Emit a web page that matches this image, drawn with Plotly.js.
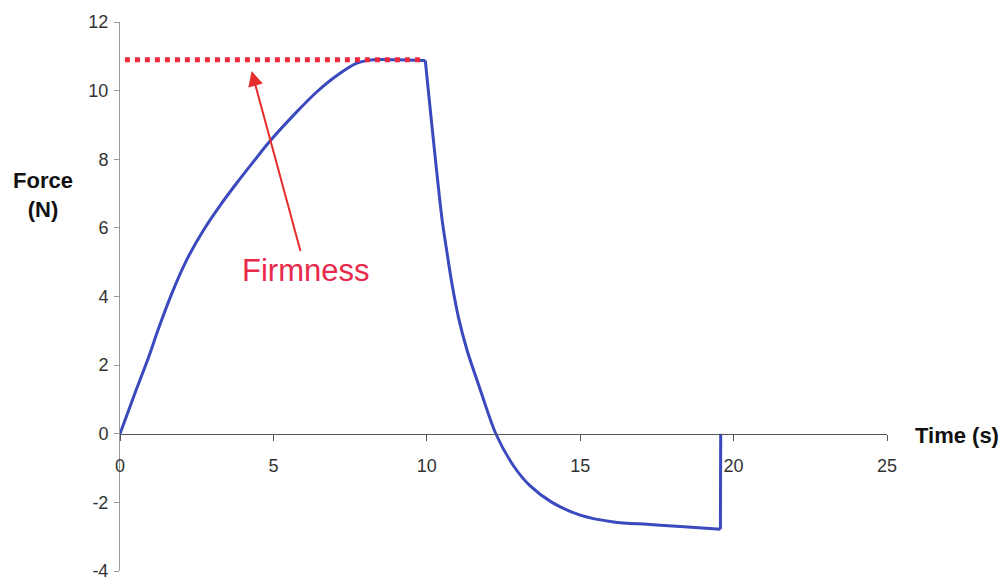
<!DOCTYPE html>
<html>
<head>
<meta charset="utf-8">
<script src="https://cdn.plot.ly/plotly-3.0.1.min.js"></script>
<style>
  html, body { margin: 0; padding: 0; background: #fff; }
  #graph { width: 1004px; height: 582px; }
</style>
</head>
<body>
<div id="graph"></div>
<script>
// force curve, in three pieces:
// loading up to the plateau, relaxation after the probe retracts, and the final release
let riseTime = [0, 0.49, 0.92, 1.25, 1.69, 2.17, 2.72, 3.26, 3.8, 4.35, 4.89, 5.76, 6.41, 7.07, 7.72, 8.26, 9.0, 9.95];
let riseForce = [0, 1.19, 2.2, 3.05, 4.09, 5.06, 5.93, 6.65, 7.3, 7.93, 8.53, 9.38, 9.96, 10.44, 10.8, 10.9, 10.9, 10.88];

let dropTime = [9.95, 10.49, 10.65, 10.82, 11.03, 11.31, 11.74, 12.25, 12.83, 13.37, 14.08, 15.0, 16.09, 17.17, 18.26, 19.57];
let dropForce = [10.88, 6.3, 5.33, 4.37, 3.4, 2.44, 1.29, 0, -0.94, -1.52, -2.0, -2.37, -2.57, -2.64, -2.70, -2.78];

let endTime = [19.57, 19.58];
let endForce = [-2.78, 0];

// firmness level (dotted red line)
let firmX = [0.16, 9.9];
let firmY = [10.9, 10.9];

let xTicks = [0, 5, 10, 15, 20, 25];
let yTicks = [-4, -2, 0, 2, 4, 6, 8, 10, 12];
let yTickText = ["-4", "-2", "0", "2", "4", "6", "8", "10", "12"];

let font = "Liberation Sans, Arial, sans-serif";
let blue = "#3a49bd";

function piece(x, y, shape) {
    return {
        x: x,
        y: y,
        mode: "lines",
        line: { color: blue, width: 3, shape: shape, smoothing: 0.8 },
        hoverinfo: "skip",
        type: "scatter"
    };
}

let firmness = {
    x: firmX,
    y: firmY,
    mode: "lines",
    line: { color: "#ee2a3c", width: 5, dash: "dot" },
    hoverinfo: "skip",
    type: "scatter"
};

let layout = {
    width: 1004,
    height: 582,
    margin: { l: 120, r: 117, t: 22, b: 11 },
    paper_bgcolor: "#ffffff",
    plot_bgcolor: "#ffffff",
    showlegend: false,
    font: { family: font, color: "#333" },
    xaxis: {
        range: [0, 25],
        tickvals: xTicks,
        anchor: "free",
        position: 0.25,
        showline: true,
        linecolor: "#555",
        linewidth: 1.5,
        ticks: "outside",
        ticklen: 6,
        tickcolor: "#555",
        ticklabelstandoff: 9,
        ticklabeloverflow: "allow",
        tickfont: { size: 18, color: "#333" },
        showgrid: false,
        zeroline: false
    },
    yaxis: {
        range: [-4, 12],
        tickvals: yTicks,
        ticktext: yTickText,
        showline: true,
        linecolor: "#999",
        linewidth: 1,
        ticks: "outside",
        ticklen: 5,
        tickcolor: "#999",
        ticklabelstandoff: 2,
        ticklabeloverflow: "allow",
        tickfont: { size: 18, color: "#333" },
        showgrid: false,
        zeroline: false
    },
    annotations: [
        {
            x: 4.29, y: 10.57, xref: "x", yref: "y",
            ax: 54, ay: 199,
            text: "Firmness",
            font: { size: 31, color: "#e8294a", family: font },
            showarrow: true,
            arrowhead: 2,
            arrowsize: 1.5,
            arrowwidth: 2,
            arrowcolor: "#e62c2c"
        },
        {
            x: -0.1, y: 0.685, xref: "paper", yref: "paper",
            xanchor: "center", yanchor: "middle",
            text: "<b>Force</b><br><b>(N)</b>",
            font: { size: 22, color: "#111", family: font },
            showarrow: false
        },
        {
            x: 1.034, y: 0.247, xref: "paper", yref: "paper",
            xanchor: "left", yanchor: "middle",
            text: "<b>Time (s)</b>",
            font: { size: 22, color: "#111", family: font },
            showarrow: false
        }
    ]
};

let data = [
    piece(riseTime, riseForce, "spline"),
    piece(dropTime, dropForce, "spline"),
    piece(endTime, endForce, "linear"),
    firmness
];

Plotly.newPlot("graph", data, layout, { staticPlot: true });
</script>
</body>
</html>
